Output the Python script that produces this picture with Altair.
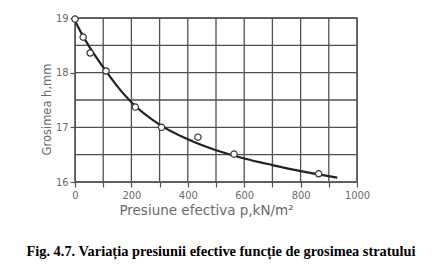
import altair as alt
import pandas as pd

# measured points
pts_p = [0, 29, 54, 110, 214, 307, 436, 564, 864]
pts_h = [18.98, 18.65, 18.36, 18.03, 17.37, 17.0, 16.82, 16.51, 16.15]

# fitted curve
crv_p = [0, 25, 50, 100, 150, 200, 300, 400, 500, 600, 700, 800, 930]
crv_h = [18.95, 18.7, 18.48, 18.1, 17.75, 17.46, 17.05, 16.78, 16.58, 16.43, 16.31, 16.2, 16.08]

# grid lines
grid_x = [0, 100, 200, 300, 400, 500, 600, 700, 800, 900, 1000]
grid_y = [16, 16.5, 17, 17.5, 18, 18.5, 19]

x_ticks = [0, 200, 400, 600, 800, 1000]
y_ticks = [16, 17, 18, 19]

pts = pd.DataFrame({"p": pts_p, "h": pts_h})
crv = pd.DataFrame({"p": crv_p, "h": crv_h})
gx = pd.DataFrame({"p": grid_x})
gy = pd.DataFrame({"h": grid_y})

FONT = "DejaVu Sans Condensed"
GRAY = "#6a6a6a"
GRID = "#505050"

xs = alt.Scale(domain=[0, 1000], nice=False)
ys = alt.Scale(domain=[16, 19], nice=False, zero=False)

xax = alt.Axis(values=grid_x, labelExpr="datum.value % 200 == 0 ? datum.label : ''",
               grid=False, domain=False, tickColor=GRID, tickWidth=1.2,
               tickSize=5, labelColor=GRAY, labelFont=FONT, labelFontSize=11, labelPadding=2,
               labelOverlap=False, labelFlush=False,
               title="Presiune  efectiva p,kN/m²", titleFont="DejaVu Sans", titleFontSize=13.5,
               titleFontWeight="normal", titleColor=GRAY, titlePadding=3, titleX=131,
               format="d")
yax = alt.Axis(values=grid_y,
               labelExpr="datum.value % 1 == 0 ? datum.label : ''",
               grid=False, domain=False, tickColor=GRID, tickWidth=1.2,
               tickSize=5, labelColor=GRAY, labelFont=FONT, labelFontSize=11, labelPadding=2,
               labelOverlap=False, labelFlush=False,
               title="Grosimea  h,mm", titleFont="DejaVu Sans", titleFontSize=11.5,
               titleFontWeight="normal", titleColor=GRAY, titlePadding=3, titleY=91,
               format="d")

vgrid = alt.Chart(gx).mark_rule(color=GRID, strokeWidth=1.3).encode(
    x=alt.X("p:Q", scale=xs, axis=xax),
)
hgrid = alt.Chart(gy).mark_rule(color=GRID, strokeWidth=1.3).encode(
    y=alt.Y("h:Q", scale=ys, axis=yax),
)
line = alt.Chart(crv).mark_line(color="#222222", strokeWidth=2.2, interpolate="monotone").encode(
    x=alt.X("p:Q", scale=xs, axis=xax),
    y=alt.Y("h:Q", scale=ys, axis=yax),
)
points = alt.Chart(pts).mark_point(shape="circle", filled=True, fill="white", stroke="#333333",
                                   strokeWidth=1.2, size=40, opacity=1).encode(
    x=alt.X("p:Q", scale=xs, axis=xax),
    y=alt.Y("h:Q", scale=ys, axis=yax),
)

chart = (vgrid + hgrid + line + points).properties(
    width=282, height=164,
    padding={"left": 75, "top": 18, "right": 80, "bottom": 82},
    autosize=alt.AutoSizeParams(type="none"),
    title=alt.TitleParams("Fig. 4.7. Variația presiunii efective funcție de grosimea stratului",
                          orient="bottom", anchor="middle", font="Liberation Serif",
                          fontSize=14.4, fontWeight="bold", color="black", offset=28, dx=5),
).configure_view(stroke=GRID, strokeWidth=1.3).configure_axis(grid=False)

chart.save("out.html", embed_options={"renderer": "svg", "actions": False})
